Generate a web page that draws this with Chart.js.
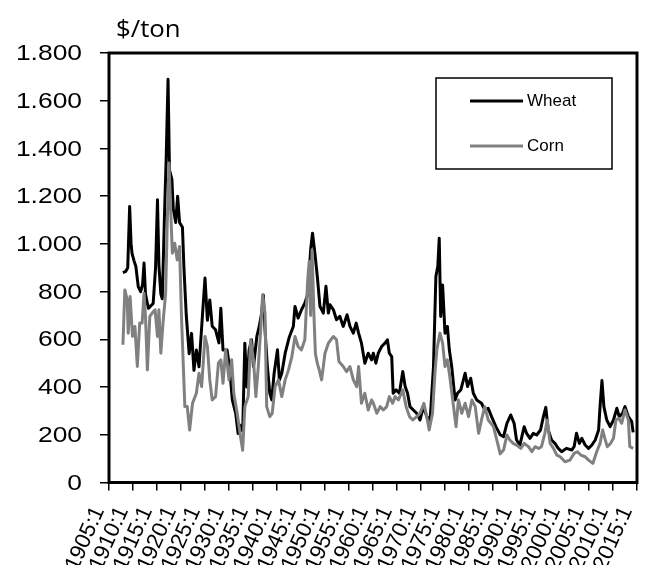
<!DOCTYPE html>
<html><head><meta charset="utf-8">
<script src="https://cdn.jsdelivr.net/npm/chart.js@4.4.1/dist/chart.umd.min.js"></script>
<style>html,body{margin:0;padding:0;background:#fff}canvas{display:block}</style>
</head><body>
<canvas id="c" width="650" height="565"></canvas>
<script>
const unitLabel = '$/ton';
const xTickYears = [1905,1910,1915,1920,1925,1930,1935,1940,1945,1950,1955,1960,1965,1970,1975,1980,1985,1990,1995,2000,2005,2010,2015];
const yTickValues = [0,200,400,600,800,1000,1200,1400,1600,1800];
const yTickLabels = ['0','200','400','600','800','1.000','1.200','1.400','1.600','1.800'];

const wheatDates = [1907.9,1908.5,1908.9,1909.3,1909.6,1909.8,1910.2,1910.6,1911.1,1911.6,1912.0,1912.3,1912.6,1913.2,1913.7,1914.2,1914.7,1915.1,1915.4,1915.8,1916.1,1916.6,1916.9,1917.3,1917.6,1918.1,1918.4,1918.9,1919.3,1919.7,1920.3,1920.6,1921.1,1921.7,1922.2,1922.7,1923.2,1923.75,1924.4,1925.0,1925.5,1926.0,1926.5,1927.2,1927.9,1928.3,1928.75,1929.6,1930.1,1930.7,1931.4,1931.9,1932.3,1932.85,1933.3,1933.7,1934.2,1934.7,1935.1,1935.8,1936.3,1936.8,1937.15,1937.5,1938.0,1938.5,1938.9,1939.4,1940.1,1940.5,1941.0,1941.7,1942.6,1943.4,1943.75,1944.4,1945.1,1945.8,1946.5,1947.0,1947.4,1947.9,1948.4,1948.95,1949.65,1950.2,1950.7,1951.05,1951.75,1952.4,1953.1,1953.8,1954.6,1955.2,1955.9,1956.5,1957.0,1957.6,1958.3,1959.0,1959.7,1960.07,1960.6,1961.1,1961.8,1962.5,1963.0,1963.4,1963.9,1964.2,1964.8,1965.5,1966.2,1966.7,1967.2,1967.7,1968.4,1969.1,1969.8,1970.5,1971.2,1971.9,1972.6,1973.1,1973.5,1973.8,1974.1,1974.5,1975.0,1975.5,1975.9,1976.4,1977.1,1977.6,1978.3,1979.2,1979.7,1980.35,1980.9,1981.6,1982.6,1983.3,1984.0,1984.7,1985.6,1986.5,1987.2,1987.9,1988.7,1989.4,1989.9,1990.6,1991.5,1992.0,1992.7,1993.4,1994.1,1994.9,1995.5,1996.0,1996.5,1997.2,1997.9,1998.6,1999.3,2000.3,2001.4,2001.9,2002.4,2003.0,2003.5,2004.2,2004.9,2005.6,2006.3,2007.0,2007.3,2007.7,2008.1,2008.7,2009.4,2010.1,2010.8,2011.3,2012.0,2012.5,2013.2,2013.9,2014.2];
const wheat = [880,885,900,1157,1000,960,930,905,820,800,830,920,790,730,740,750,900,1185,910,790,770,1150,1350,1690,1310,1270,1145,1090,1200,1090,1070,905,700,540,625,470,555,485,680,857,680,765,655,640,585,730,555,555,485,345,290,205,240,215,584,400,556,598,486,612,654,710,786,640,486,374,346,458,556,430,458,542,612,654,738,689,724,752,794,975,1045,960,863,738,710,822,710,745,724,682,696,654,703,654,626,668,626,584,500,542,514,542,500,542,570,584,598,542,528,374,388,374,465,402,374,318,304,290,262,318,276,262,486,863,906,1024,696,828,626,654,556,486,346,374,388,458,402,437,374,346,332,304,311,276,234,200,192,248,283,248,178,157,234,206,185,206,199,220,276,315,220,178,164,143,129,143,136,150,206,164,185,157,143,157,178,220,318,427,318,262,234,262,311,276,290,318,276,255,210];

const cornDates = [1907.9,1908.3,1908.8,1909.0,1909.4,1909.9,1910.4,1910.9,1911.4,1911.9,1912.3,1912.6,1913.0,1913.5,1914.0,1914.6,1915.1,1915.4,1915.8,1916.25,1916.8,1917.15,1917.5,1917.85,1918.2,1918.7,1919.2,1919.7,1920.1,1920.8,1921.3,1921.8,1922.4,1923.2,1923.75,1924.3,1925.0,1925.5,1926.0,1926.5,1927.2,1927.8,1928.3,1928.75,1929.3,1930.0,1930.55,1931.0,1931.7,1932.3,1932.85,1933.3,1934.0,1934.5,1935.1,1935.6,1936.1,1936.6,1937.0,1937.5,1937.85,1938.5,1939.0,1939.6,1940.3,1941.0,1941.7,1942.4,1943.1,1943.75,1944.4,1945.1,1945.8,1946.4,1946.7,1947.0,1947.3,1947.7,1948.0,1948.4,1948.8,1949.3,1950.0,1950.7,1951.75,1952.4,1952.9,1953.8,1954.5,1955.2,1955.9,1956.6,1957.0,1957.6,1958.3,1959.0,1959.7,1960.07,1960.8,1961.5,1962.15,1962.85,1963.4,1964.1,1964.6,1965.3,1966.2,1966.9,1967.6,1968.3,1969.1,1969.8,1970.6,1971.2,1971.7,1972.4,1972.9,1973.3,1973.95,1974.5,1975.0,1975.5,1976.0,1976.6,1977.3,1977.8,1978.5,1979.2,1979.9,1980.6,1981.3,1982.0,1982.6,1983.3,1984.0,1985.1,1985.8,1986.5,1987.2,1987.9,1988.5,1989.2,1989.9,1990.8,1991.5,1992.4,1993.1,1993.75,1994.5,1995.1,1995.8,1996.3,1996.9,1997.6,1998.3,1999.0,2000.0,2001.05,2001.9,2002.6,2003.3,2004.2,2004.9,2005.8,2006.6,2007.3,2007.85,2008.3,2008.8,2009.5,2010.1,2010.6,2011.2,2011.8,2012.5,2013.2,2013.5,2014.2];
const corn = [577,807,765,626,779,612,654,486,668,668,793,696,472,696,710,724,612,724,542,668,793,1101,1339,1143,961,1003,933,989,696,318,318,220,332,374,458,402,612,570,430,346,360,500,514,416,556,430,514,374,291,206,135,318,360,598,514,360,486,640,786,710,318,276,290,402,430,360,430,472,528,612,570,556,598,850,926,700,975,700,540,499,472,430,542,584,612,598,507,486,465,486,430,402,486,332,374,304,346,332,290,318,304,318,360,332,360,346,388,318,276,262,276,290,332,276,220,290,458,556,626,584,486,514,444,346,234,346,290,332,276,346,318,206,262,318,262,234,178,120,136,199,178,164,157,143,164,150,129,150,143,150,206,262,164,143,115,108,87,94,122,129,115,108,94,80,129,164,220,185,150,164,185,262,269,248,304,262,150,143];

const AREA_LEFT = 109, AREA_TOP = 53, AREA_RIGHT = 637, AREA_BOTTOM = 482.5, W = 650, H = 565;

const decor = {
  id: 'decor',
  afterDatasetsDraw(chart) {
    const {ctx, chartArea: a} = chart;
    ctx.save();
    ctx.strokeStyle = '#000';
    ctx.lineWidth = 3;
    ctx.strokeRect(a.left, a.top, a.right - a.left, a.bottom - a.top);
    ctx.restore();
  },
  afterDraw(chart) {
    const ctx = chart.ctx;
    const ys = chart.scales.y;
    ctx.save();
    ctx.fillStyle = '#000';
    ctx.font = '22px "Liberation Sans", Arial, sans-serif';
    ctx.textAlign = 'right';
    ctx.textBaseline = 'middle';
    yTickValues.forEach((v, i) => {
      const py = ys.getPixelForValue(v);
      ctx.save();
      ctx.translate(82, py + 1);
      ctx.scale(1.2, 1);
      ctx.fillText(yTickLabels[i], 0, 0);
      ctx.restore();
    });
    ctx.save();
    ctx.font = '23px "Open Sans", sans-serif';
    ctx.textAlign = 'left';
    ctx.textBaseline = 'alphabetic';
    ctx.translate(116, 36.5);
    ctx.scale(1.12, 1);
    ctx.fillText(unitLabel, 0, 0);
    ctx.restore();
    const lx = 436, ly = 78, lw = 176, lh = 91;
    ctx.fillStyle = '#fff';
    ctx.fillRect(lx, ly, lw, lh);
    ctx.strokeStyle = '#000';
    ctx.lineWidth = 1.5;
    ctx.strokeRect(lx, ly, lw, lh);
    const rows = [101, 146];
    chart.data.datasets.forEach((ds, i) => {
      ctx.strokeStyle = ds.borderColor;
      ctx.lineWidth = 3;
      ctx.beginPath();
      ctx.moveTo(470, rows[i]);
      ctx.lineTo(523, rows[i]);
      ctx.stroke();
      ctx.fillStyle = '#000';
      ctx.font = '17px "Liberation Sans", Arial, sans-serif';
      ctx.textAlign = 'left';
      ctx.textBaseline = 'middle';
      ctx.fillText(ds.label, 527, rows[i] + 0.5);
    });
    ctx.restore();
  }
};

new Chart(document.getElementById('c'), {
  type: 'line',
  data: {
    datasets: [
      { label: 'Wheat', data: wheatDates.map((x, i) => ({x, y: wheat[i]})), borderColor: '#000000', borderWidth: 3, pointRadius: 0, tension: 0, order: 1, borderJoinStyle: 'round' },
      { label: 'Corn', data: cornDates.map((x, i) => ({x, y: corn[i]})), borderColor: '#808080', borderWidth: 3, pointRadius: 0, tension: 0, order: 0, borderJoinStyle: 'round' }
    ]
  },
  options: {
    responsive: false,
    animation: false,
    events: [],
    layout: { padding: { top: AREA_TOP, right: W - AREA_RIGHT, left: 0, bottom: 0 } },
    plugins: { legend: { display: false }, tooltip: { enabled: false } },
    scales: {
      x: {
        type: 'linear', min: 1905, max: 2015,
        afterBuildTicks: s => { s.ticks = xTickYears.map(v => ({value: v})); },
        afterFit: s => { s.height = H - AREA_BOTTOM; s.paddingLeft = 0; s.paddingRight = 0; s.paddingTop = 0; s.paddingBottom = 0; },
        border: { display: false },
        grid: { drawOnChartArea: false, tickLength: 8, color: '#000', lineWidth: 1.5 },
        ticks: { autoSkip: false, minRotation: 66, maxRotation: 66, padding: 12, labelOffset: -10,
          color: '#000', font: { family: '"Liberation Sans", Arial, sans-serif', size: 22 },
          callback: v => v + ':1' }
      },
      y: {
        min: 0, max: 1800,
        afterBuildTicks: s => { s.ticks = yTickValues.map(v => ({value: v})); },
        afterFit: s => { s.width = AREA_LEFT; s.paddingTop = 0; s.paddingBottom = 0; s.paddingLeft = 0; s.paddingRight = 0; },
        border: { display: false },
        grid: { drawOnChartArea: false, tickLength: 9, color: '#000', lineWidth: 1.5 },
        ticks: { display: false }
      }
    }
  },
  plugins: [decor]
});
</script>
</body></html>
